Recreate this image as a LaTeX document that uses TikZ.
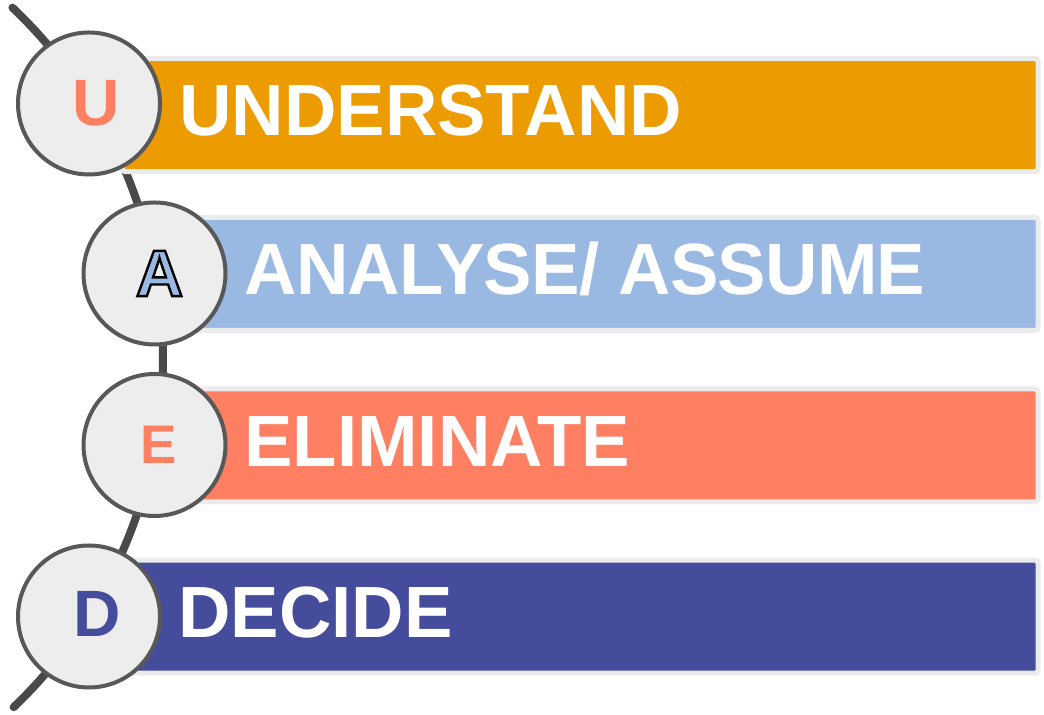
\documentclass[tikz,border=0pt]{standalone}
\usepackage{fontspec}
\setmainfont{Liberation Sans}
\usetikzlibrary{positioning}

\definecolor{understandOrange}{HTML}{EC9B00}
\definecolor{analyseBlue}{HTML}{9AB9E2}
\definecolor{eliminateSalmon}{HTML}{FF7F63}
\definecolor{decideBlue}{HTML}{454C9C}
\definecolor{barEdge}{HTML}{EBEBEB}
\definecolor{discFill}{HTML}{EDEDED}
\definecolor{discEdge}{HTML}{585858}
\definecolor{spineGray}{HTML}{494949}

\newcommand{\outlined}[1]{\special{pdf:literal direct 2 Tr 1.2 w 0 0 0 RG}#1\special{pdf:literal direct 0 Tr}}

\tikzset{
  bar/.style={draw=barEdge, line width=2.5pt, rounded corners=1.5pt, minimum height=56.5pt, anchor=east, inner sep=0pt},
  barlabel/.style={anchor=base west, inner sep=0pt, text=white, font=\bfseries\fontsize{36.3}{40}\selectfont},
  letterdisc/.style={circle, draw=discEdge, fill=discFill, line width=2pt, minimum size=71pt, inner sep=0pt, font=\bfseries\fontsize{32.8}{36}\selectfont}
}

\begin{document}
\begin{tikzpicture}[x=0.5pt, y=0.5pt]
  \useasboundingbox (0,0) rectangle (1044,715);

  \draw[spineGray, line width=4pt, line cap=round] (-320,357) ++(46.5:483) arc[start angle=46.5, end angle=-46.3, radius=483];

  \node[bar, fill=understandOrange, minimum width=457.75pt] (understandBar) at (1040.5,599.75) {};
  \node[bar, fill=analyseBlue, minimum width=425.25pt] (analyseBar) at (1040.5,441) {};
  \node[bar, fill=eliminateSalmon, minimum width=425.25pt] (eliminateBar) at (1040.5,269.5) {};
  \node[bar, fill=decideBlue, minimum width=457.75pt] (decideBar) at (1040.5,98.25) {};

  \node[barlabel] (understandText) at (179,579) {UNDERSTAND};
  \node[barlabel] (analyseText) at (244,420) {\addfontfeature{LetterSpace=-1.1}ANALYSE/ ASSUME};
  \node[barlabel] (eliminateText) at (244,248.5) {ELIMINATE};
  \node[barlabel] (decideText) at (178,77.5) {DECIDE};

  \node[letterdisc, text=eliminateSalmon] (uDisc) at (89,611.5) {\hspace*{7pt}U};
  \node[letterdisc, text=analyseBlue] (aDisc) at (154.5,441.5) {\hspace*{5pt}\outlined{A}};
  \node[letterdisc, text=eliminateSalmon, font=\bfseries\fontsize{27.2}{30}\selectfont] (eDisc) at (154.5,270) {\hspace*{4pt}E};
  \node[letterdisc, text=decideBlue] (dDisc) at (89,98.5) {\hspace*{8pt}D\rule[-3pt]{0pt}{0pt}};
\end{tikzpicture}
\end{document}
